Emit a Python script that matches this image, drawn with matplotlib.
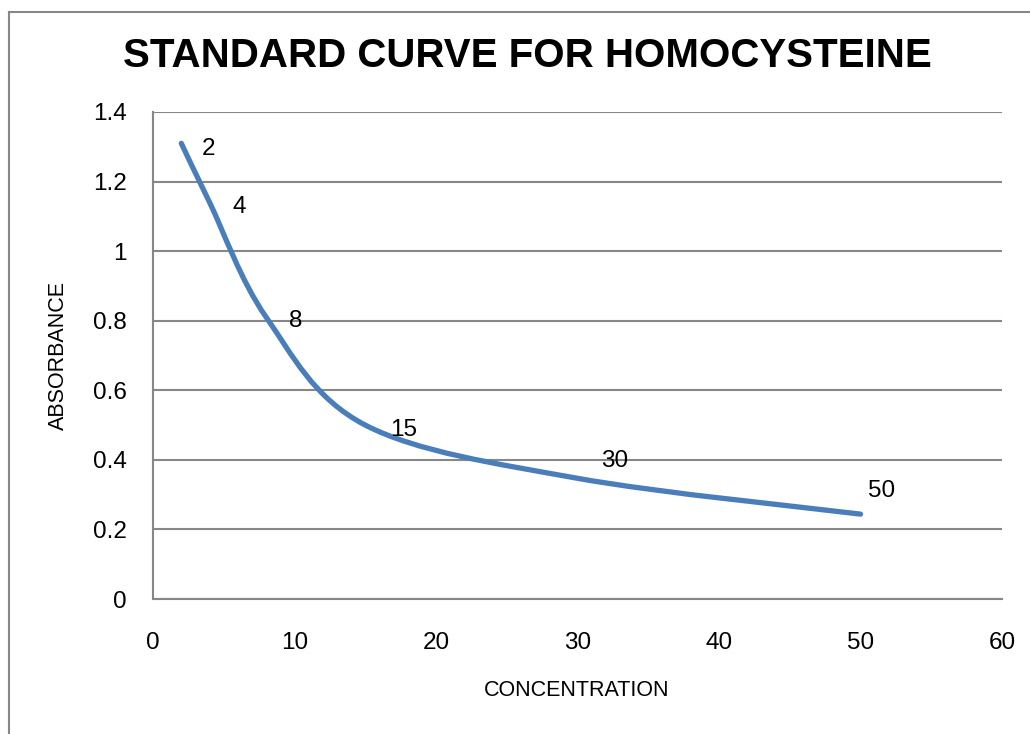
import numpy as np
import matplotlib.pyplot as plt
from matplotlib.path import Path
from matplotlib.patches import PathPatch
from matplotlib.lines import Line2D

# standard points
conc = [2, 4, 8, 15, 30, 50]
absorb = [1.31, 1.14, 0.81, 0.50, 0.347, 0.244]
point_labels = ['2', '4', '8', '15', '30', '50']
yticks = [0, 0.2, 0.4, 0.6, 0.8, 1.0, 1.2, 1.4]
ytick_labels = ['0', '0.2', '0.4', '0.6', '0.8', '1', '1.2', '1.4']
xticks = [0, 10, 20, 30, 40, 50, 60]

font = 'Liberation Sans'
W, H = 1030, 734
grey = '#878787'
blue = '#4A7EBB'

fig = plt.figure(figsize=(W / 100, H / 100), dpi=100)
ax = fig.add_axes([153 / W, 1 - 599 / H, (1002 - 153) / W, (599 - 112) / H])

# Excel-like smoothed line: cubic bezier through the points
pts = np.column_stack([conc, absorb])
ext = np.vstack([pts[0], pts, pts[-1]])
verts = [tuple(pts[0])]
codes = [Path.MOVETO]
for i in range(len(pts) - 1):
    p0, p1, p2, p3 = ext[i], ext[i + 1], ext[i + 2], ext[i + 3]
    verts += [tuple(p1 + (p2 - p0) / 6), tuple(p2 - (p3 - p1) / 6), tuple(p2)]
    codes += [Path.CURVE4] * 3
ax.add_patch(PathPatch(Path(verts, codes), fill=False, edgecolor=blue,
                       lw=3.8, capstyle='round', joinstyle='round', zorder=3))

# data labels, offsets in pixels from each point
offsets = [(20, -6), (23, -5), (23, -4), (25, -5), (24, 17), (7, 23)]
for x, y, s, (dx, dy) in zip(conc, absorb, point_labels, offsets):
    ax.annotate(s, (x, y), xytext=(dx, dy), textcoords='offset pixels',
                ha='left', va='center', fontsize=17.5, family=font)

ax.set_xlim(0, 60)
ax.set_ylim(0, 1.4)
ax.set_xticks(xticks)
ax.set_yticks(yticks)
ax.set_yticklabels(ytick_labels)
for lab in ax.get_xticklabels() + ax.get_yticklabels():
    lab.set_family(font)
    lab.set_fontsize(17.5)
ax.tick_params(axis='both', length=0)
ax.tick_params(axis='y', pad=19)
ax.tick_params(axis='x', pad=24)
ax.grid(axis='y', color=grey, lw=1.5)
ax.set_axisbelow(True)
for side in ['top', 'right']:
    ax.spines[side].set_visible(False)
for side in ['left', 'bottom']:
    ax.spines[side].set_color(grey)
    ax.spines[side].set_linewidth(1.5)

fig.text(527 / W, 1 - 56 / H, 'STANDARD CURVE FOR HOMOCYSTEINE', ha='center',
         va='center', fontsize=29, weight='bold', family=font)
fig.text(58 / W, 1 - 355 / H, 'ABSORBANCE', rotation=90, ha='center',
         va='center', fontsize=15.5, family=font)
fig.text(577 / W, 1 - 691 / H, 'CONCENTRATION', ha='center', va='center',
         fontsize=15.5, family=font)

# outer chart frame (left and top edges visible)
fig.add_artist(Line2D([9 / W, 9 / W], [0, 1 - 12 / H], color=grey, lw=1.5))
fig.add_artist(Line2D([9 / W, 1], [1 - 12 / H, 1 - 12 / H], color=grey, lw=1.5))

fig.savefig('out.png', dpi=100)
